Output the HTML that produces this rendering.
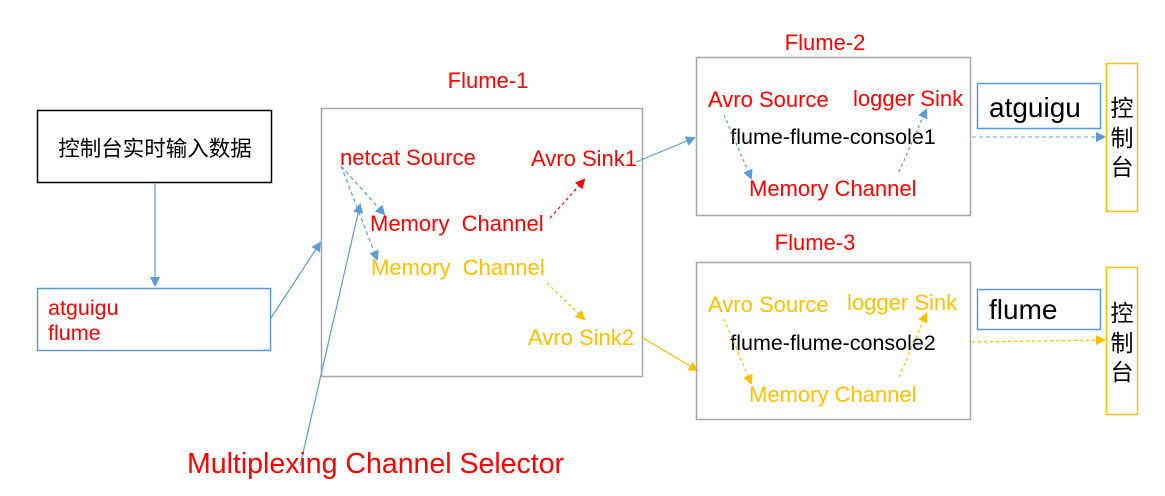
<!DOCTYPE html>
<html><head><meta charset="utf-8"><style>
html,body{margin:0;padding:0;background:#fff;}
svg{display:block;}
text{font-family:"Liberation Sans","Noto Sans CJK SC",sans-serif;}
</style></head><body>
<svg width="1165" height="496" viewBox="0 0 1165 496" xmlns="http://www.w3.org/2000/svg">
<defs>
<marker id="ab" markerWidth="10" markerHeight="10" refX="8" refY="5" orient="auto" markerUnits="userSpaceOnUse"><path d="M0,0 L10,5 L0,10 z" fill="#5b9bd5"/></marker>
<marker id="ar" markerWidth="10" markerHeight="10" refX="8" refY="5" orient="auto" markerUnits="userSpaceOnUse"><path d="M0,0 L10,5 L0,10 z" fill="#ff0000"/></marker>
<marker id="ao" markerWidth="10" markerHeight="10" refX="8" refY="5" orient="auto" markerUnits="userSpaceOnUse"><path d="M0,0 L10,5 L0,10 z" fill="#ffc000"/></marker>
</defs>
<rect x="37.5" y="110.5" width="234" height="72" fill="none" stroke="#000" stroke-width="1.5"/>
<text x="155" y="156" font-size="21.5" text-anchor="middle" fill="#000">控制台实时输入数据</text>
<line x1="155" y1="183" x2="155" y2="285" stroke="#5b9bd5" stroke-width="1.2" marker-end="url(#ab)"/>
<rect x="37.5" y="288.5" width="233" height="62" fill="none" stroke="#5b9bd5" stroke-width="1.5"/>
<text x="48" y="315" font-size="21.5" fill="#f00">atguigu</text>
<text x="48" y="340" font-size="21.5" fill="#f00">flume</text>
<line x1="271" y1="318" x2="320" y2="243" stroke="#5b9bd5" stroke-width="1.2" marker-end="url(#ab)"/>
<text x="488" y="88" font-size="22" text-anchor="middle" fill="#f00">Flume-1</text>
<rect x="321.5" y="108.5" width="321" height="268" fill="none" stroke="#a6a6a6" stroke-width="1.5"/>
<text x="340" y="165" font-size="22" fill="#f00">netcat Source</text>
<text x="531" y="166" font-size="22" fill="#f00">Avro Sink1</text>
<text x="370" y="231" font-size="22" fill="#f00" xml:space="preserve">Memory  Channel</text>
<text x="371" y="275" font-size="22" fill="#ffc000" xml:space="preserve">Memory  Channel</text>
<text x="528" y="345" font-size="22" fill="#ffc000">Avro Sink2</text>
<line x1="341" y1="166" x2="384" y2="214" stroke="#5b9bd5" stroke-width="1.2" stroke-dasharray="4,3" marker-end="url(#ab)"/>
<line x1="341" y1="166" x2="377" y2="259" stroke="#5b9bd5" stroke-width="1.2" stroke-dasharray="4,3" marker-end="url(#ab)"/>
<line x1="300" y1="466" x2="360" y2="205" stroke="#5b9bd5" stroke-width="1.2" marker-end="url(#ab)"/>
<text x="187" y="473" font-size="28.5" fill="#f00">Multiplexing Channel Selector</text>
<line x1="550" y1="218" x2="584" y2="180" stroke="#f00" stroke-width="1.2" stroke-dasharray="3,3" marker-end="url(#ar)"/>
<line x1="547" y1="283" x2="584" y2="319" stroke="#ffc000" stroke-width="1.2" stroke-dasharray="3,3" marker-end="url(#ao)"/>
<line x1="636" y1="162" x2="694" y2="138" stroke="#5b9bd5" stroke-width="1.2" marker-end="url(#ab)"/>
<line x1="641" y1="337" x2="697" y2="370" stroke="#ffc000" stroke-width="1.2" marker-end="url(#ao)"/>
<text x="825" y="50" font-size="22" text-anchor="middle" fill="#f00">Flume-2</text>
<rect x="696.5" y="57.5" width="274" height="158" fill="none" stroke="#a6a6a6" stroke-width="1.5"/>
<text x="708" y="107" font-size="22" fill="#f00">Avro Source</text>
<text x="853" y="106" font-size="22" fill="#f00">logger Sink</text>
<text x="833" y="144" font-size="21.5" text-anchor="middle" fill="#000">flume-flume-console1</text>
<text x="749" y="196" font-size="22" fill="#f00">Memory Channel</text>
<line x1="724" y1="115" x2="751" y2="178" stroke="#5b9bd5" stroke-width="1.2" stroke-dasharray="3,3" marker-end="url(#ab)"/>
<line x1="899" y1="172" x2="926" y2="110" stroke="#5b9bd5" stroke-width="1.2" stroke-dasharray="3,3" marker-end="url(#ab)"/>
<rect x="977.5" y="83.5" width="123" height="45" fill="none" stroke="#5b9bd5" stroke-width="1.5"/>
<text x="989" y="117" font-size="28" fill="#000">atguigu</text>
<rect x="1106.5" y="63.5" width="31" height="148" fill="none" stroke="#ffc000" stroke-width="1.5"/>
<text x="1122" y="116" font-size="23" text-anchor="middle" fill="#000">控</text>
<text x="1122" y="146" font-size="23" text-anchor="middle" fill="#000">制</text>
<text x="1122" y="175" font-size="23" text-anchor="middle" fill="#000">台</text>
<line x1="972" y1="137" x2="1104" y2="137" stroke="#9dc3e6" stroke-width="1.5" stroke-dasharray="4,3" marker-end="url(#ab)"/>
<text x="815" y="250" font-size="22" text-anchor="middle" fill="#f00">Flume-3</text>
<rect x="696.5" y="262.5" width="274" height="157" fill="none" stroke="#a6a6a6" stroke-width="1.5"/>
<text x="708" y="312" font-size="22" fill="#ffc000">Avro Source</text>
<text x="847" y="310" font-size="22" fill="#ffc000">logger Sink</text>
<text x="833" y="350" font-size="21.5" text-anchor="middle" fill="#000">flume-flume-console2</text>
<text x="749" y="402" font-size="22" fill="#ffc000">Memory Channel</text>
<line x1="724" y1="319" x2="751" y2="383" stroke="#ffc000" stroke-width="1.2" stroke-dasharray="3,3" marker-end="url(#ao)"/>
<line x1="899" y1="377" x2="926" y2="314" stroke="#ffc000" stroke-width="1.2" stroke-dasharray="3,3" marker-end="url(#ao)"/>
<rect x="977.5" y="289.5" width="123" height="40" fill="none" stroke="#5b9bd5" stroke-width="1.5"/>
<text x="989" y="319" font-size="28" fill="#000">flume</text>
<rect x="1106.5" y="267.5" width="31" height="147" fill="none" stroke="#ffc000" stroke-width="1.5"/>
<text x="1122" y="321" font-size="23" text-anchor="middle" fill="#000">控</text>
<text x="1122" y="351" font-size="23" text-anchor="middle" fill="#000">制</text>
<text x="1122" y="380" font-size="23" text-anchor="middle" fill="#000">台</text>
<line x1="972" y1="342" x2="1104" y2="340" stroke="#ffc000" stroke-width="1.2" stroke-dasharray="3,3" marker-end="url(#ao)"/>
</svg>
</body></html>
